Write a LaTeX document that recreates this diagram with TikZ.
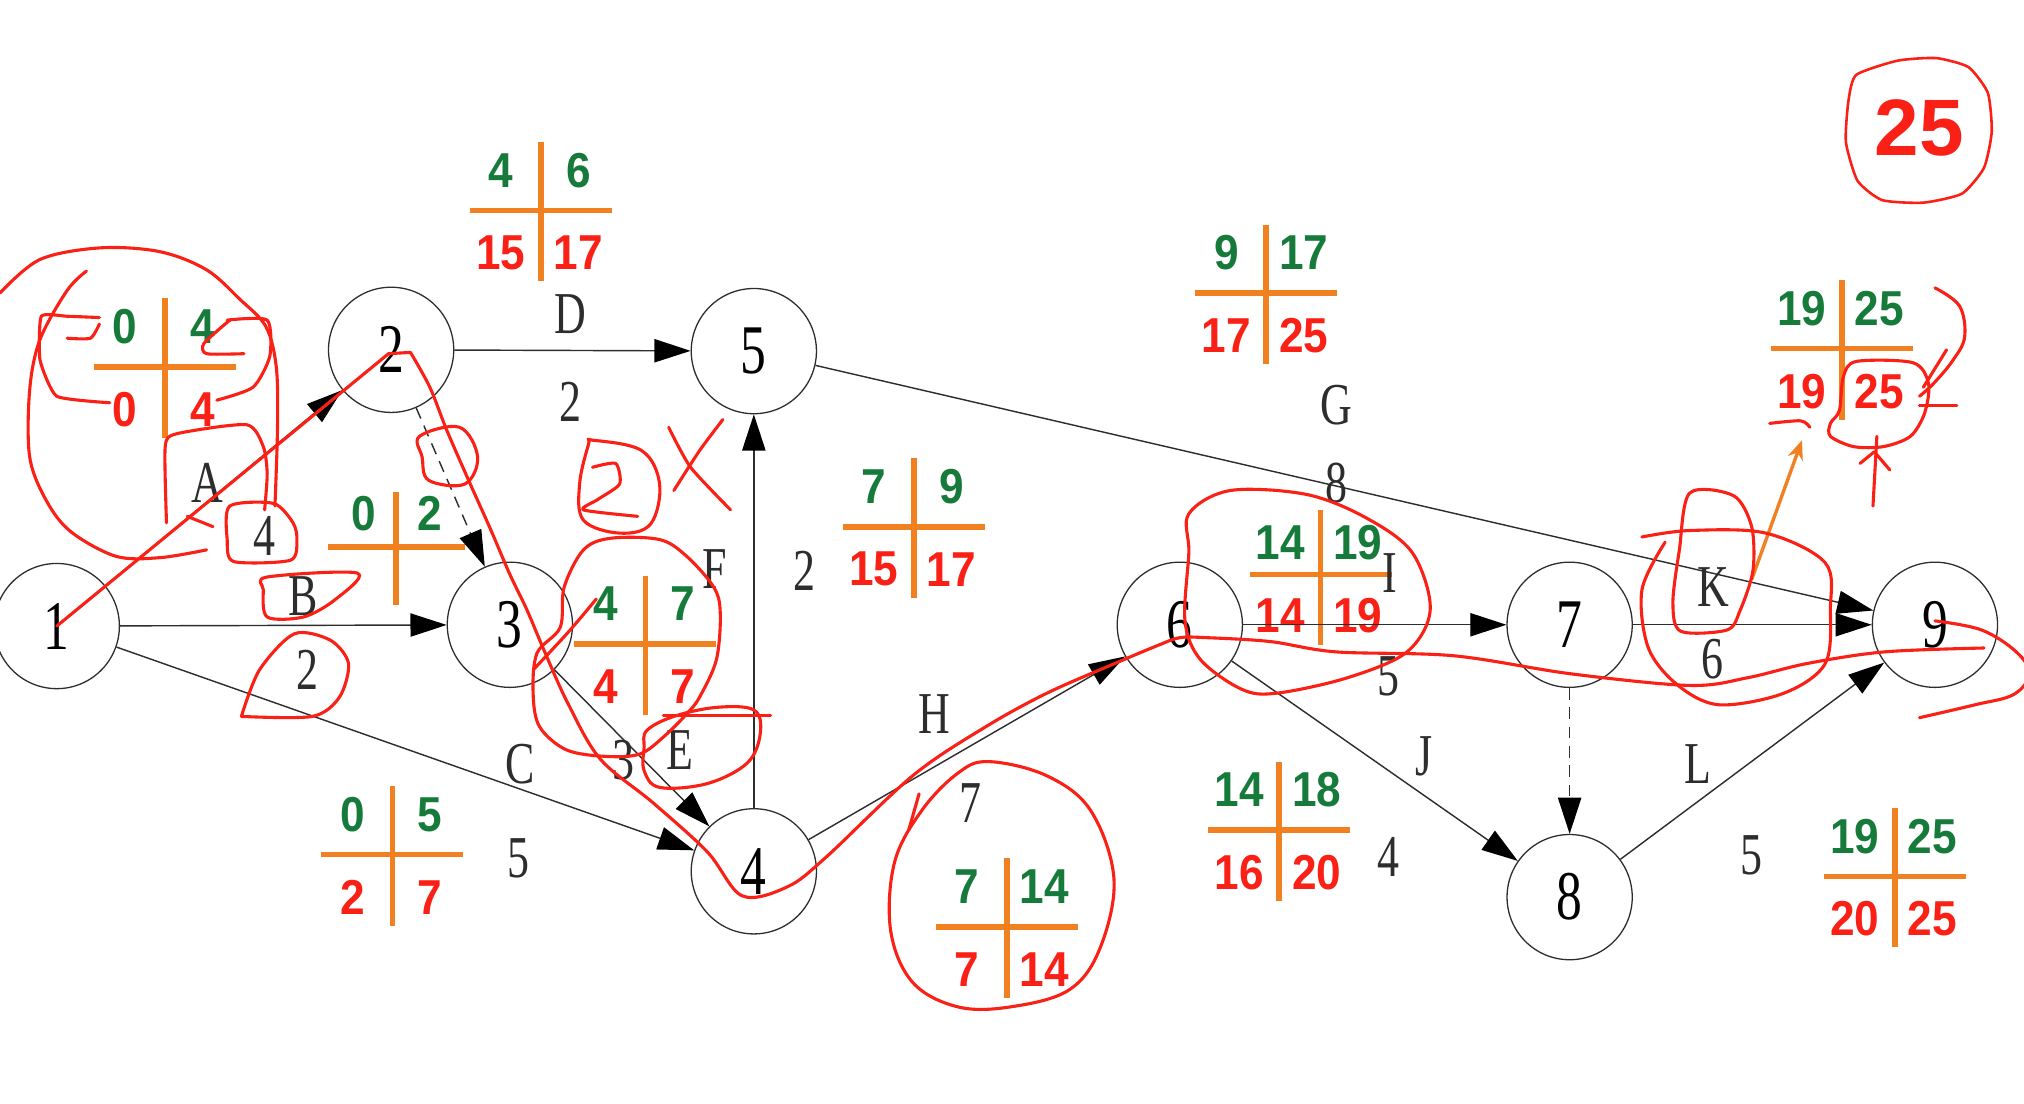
\documentclass[tikz,border=0pt]{standalone}
\usepackage{fontspec}
\setmainfont{Liberation Serif}
\newfontfamily\labfont{Liberation Serif}[FakeStretch=0.74]
\newfontfamily\numfont{Liberation Sans}[FakeStretch=0.9]
\newfontfamily\bigfont{Liberation Sans}
\usetikzlibrary{arrows.meta}
\definecolor{grn}{RGB}{22,122,58}
\definecolor{rd}{RGB}{250,32,22}
\definecolor{org}{RGB}{240,128,32}
\definecolor{ink}{RGB}{45,45,45}
\newcommand\crosstab[7]{%
  \begin{scope}[shift={(#2,#3)}]
    \draw[crossln] (-55,0) -- (55,0);
    \draw[crossln] (0,-53) -- (0,55);
    \node[es] (#1tl) at (-31,-31) {#4};
    \node[es] (#1tr) at (29,-31) {#5};
    \node[lf] (#1bl) at (-31,33) {#6};
    \node[lf] (#1br) at (29,33) {#7};
  \end{scope}}
\begin{document}
\begin{tikzpicture}[x=1pt,y=-1pt,
  ev/.style={circle,draw=ink,line width=1pt,minimum size=97pt,inner sep=0pt,
     font=\labfont\fontsize{54}{54}\selectfont},
  lbl/.style={inner sep=0pt,text=ink,font=\labfont\fontsize{46}{46}\selectfont},
  act/.style={draw=ink,line width=1.1pt,-{Triangle[length=28pt,width=18pt,color=black]}},
  dummy/.style={act,dash pattern=on 9pt off 6pt},
  es/.style={inner sep=0pt,text=grn,font=\numfont\bfseries\fontsize{38}{38}\selectfont},
  lf/.style={inner sep=0pt,text=rd,font=\numfont\bfseries\fontsize{38}{38}\selectfont},
  crossln/.style={draw=org,line width=4.5pt},
  scrib/.style={draw=rd,line width=2.4pt,line cap=round,line join=round},
]
\useasboundingbox[fill=white] (0,0) rectangle (1568,855);

% ---- cross tables ----
\crosstab{ta}{128}{284}{0}{4}{0}{4}
\crosstab{tb}{419}{163}{4}{6}{15}{17}
\begin{scope}[shift={(307,424)}]
  \draw[crossln] (-53,0) -- (53,0);
  \draw[crossln] (0,-43) -- (0,45);
  \node[es] (tctl) at (-25,-26) {0};
  \node[es] (tctr) at (26,-26) {2};
\end{scope}
\crosstab{td}{500}{499}{4}{7}{4}{7}
\crosstab{te}{708}{408}{7}{9}{15}{17}
\crosstab{tf}{304}{662}{0}{5}{2}{7}
\crosstab{tg}{780}{718}{7}{14}{7}{14}
\crosstab{th}{981}{227}{9}{17}{17}{25}
\begin{scope}[shift={(1023,445)}]
  \draw[crossln] (-55,0) -- (55,0);
  \draw[crossln] (0,-50) -- (0,55);
  \node[es] (titl) at (-31,-25) {14};
  \node[es] (titr) at (29,-25) {19};
  \node[lf] (tibl) at (-31,32) {14};
  \node[lf] (tibr) at (29,32) {19};
\end{scope}
\crosstab{tj}{991}{643}{14}{18}{16}{20}
\crosstab{tk}{1427}{270}{19}{25}{19}{25}
\crosstab{tl}{1468}{679}{19}{25}{20}{25}

% ---- events ----
\node[ev] (n1) at (44,485) {1};
\node[ev] (n2) at (303,271) {2};
\node[ev] (n3) at (395,484) {3};
\node[ev] (n4) at (584,675) {4};
\node[ev] (n5) at (584,272) {5};
\node[ev] (n6) at (914,484) {6};
\node[ev] (n7) at (1216,484) {7};
\node[ev] (n8) at (1216,695) {8};
\node[ev] (n9) at (1499,484) {9};

% ---- activities ----
\draw[act] (n1) -- (n2);
\draw[act] (n1) -- (n3);
\draw[act] (n1) -- (n4);
\draw[act] (n2) -- (n5);
\draw[dummy] (n2) -- (n3);
\draw[act] (n3) -- (n4);
\draw[act] (n4) -- (n5);
\draw[act] (n5) -- (n9);
\draw[act] (n4) -- (n6);
\draw[act] (n6) -- (n7);
\draw[act] (n6) -- (n8);
\draw[act] (n7) -- (n9);
\draw[dummy] (n7) -- (n8);
\draw[act] (n8) -- (n9);

% ---- activity labels ----
\node[lbl] (la) at (161,374) {A};
\node[lbl] (da) at (205,415) {4};
\node[lbl] (lb) at (235,462) {B};
\node[lbl] (db) at (238,519) {2};
\node[lbl] (lc) at (403,592) {C};
\node[lbl] (dc) at (402,665) {5};
\node[lbl] (ld) at (442,243) {D};
\node[lbl] (dd) at (442,311) {2};
\node[lbl] (le) at (527,581) {E};
\node[lbl] (de) at (483,589) {3};
\node[lbl] (lff) at (554,441) {F};
\node[lbl] (dff) at (623,442) {2};
\node[lbl] (lg) at (1035,314) {G};
\node[lbl] (dg) at (1035,374) {8};
\node[lbl] (lh) at (724,553) {H};
\node[lbl] (dh) at (752,622) {7};
\node[lbl] (li) at (1077,444) {I};
\node[lbl] (di) at (1076,524) {5};
\node[lbl] (lj) at (1103,586) {J};
\node[lbl] (dj) at (1076,664) {4};
\node[lbl] (lk) at (1327,455) {K};
\node[lbl] (dk) at (1327,511) {6};
\node[lbl] (ll) at (1315,592) {L};
\node[lbl] (dl) at (1357,663) {5};

% ---- total ----
\node[inner sep=0pt,text=rd,font=\bigfont\bfseries\fontsize{62}{62}\selectfont] (tot) at (1487,99) {25};

% ---- orange pointer ----
\coordinate (oa1) at (1357,449);
\coordinate (oa2) at (1396,341);
\draw[draw=org,line width=2.6pt,-{Stealth[length=15pt,width=12pt]}] (oa1) -- (oa2);

% ---- red hand annotations ----
% critical path
\draw[scrib] (44,485) -- (301,274) -- (318,273);
\draw[scrib] plot[smooth,tension=0.55] coordinates {(318,273) (333,300) (346,333) (363,372) (380,410) (395,445) (408,472) (422,505) (440,545) (465,588) (506,622) (548,660) (575,694) (610,687) (640,664) (707,601) (762,564) (811,537) (866,513) (897,500) (914,494) (935,494) (984,497) (1035,505) (1126,508) (1217,522) (1309,531) (1354,525) (1400,514) (1460,505) (1537,502)};
\draw[scrib] plot[smooth,tension=0.6] coordinates {(1499,481) (1535,488) (1562,505) (1572,522) (1560,538) (1530,546) (1487,556)};
% loops around first table
\draw[scrib] plot[smooth,tension=0.55] coordinates {(67,210) (52,225) (31,263) (23,302) (23,354) (36,388) (55,412) (90,431) (124,432) (160,426)};
\draw[scrib] plot[smooth,tension=0.55] coordinates {(213,392) (215,330) (214,284) (206,253) (186,232) (160,209) (124,195) (78,192) (31,201) (0,227)};
\draw[scrib] plot[smooth,tension=0.3] coordinates {(77,246) (52,245) (32,245) (31,279) (44,307) (85,312)};
\draw[scrib] plot[smooth,tension=0.4] coordinates {(52,262) (70,262) (77,251)};
\draw[scrib] plot[smooth,tension=0.4] coordinates {(176,248) (207,248) (209,276) (196,300) (168,310)};
\draw[scrib] plot[smooth,tension=0.4] coordinates {(189,274) (160,274) (158,266) (178,248)};
\draw[scrib] plot[smooth,tension=0.4] coordinates {(129,405) (128,346) (137,336) (191,329) (204,346) (207,367) (205,395)};
\draw[scrib] (145,400) -- (165,408);
\draw[scrib] plot[smooth cycle,tension=0.45] coordinates {(178,392) (212,390) (227,405) (230,418) (225,434) (181,435) (176,418)};
\draw[scrib] plot[smooth cycle,tension=0.5] coordinates {(207,447) (277,444) (259,465) (235,478) (207,478) (204,457)};
\draw[scrib] plot[smooth,tension=0.5] coordinates {(187,555) (201,519) (228,491) (256,496) (270,514) (263,540) (242,555) (187,555)};
\draw[scrib] plot[smooth cycle,tension=0.6] coordinates {(325,338) (356,331) (370,354) (360,375) (332,372) (327,354)};
% handwritten 2 and X
\draw[scrib] plot[smooth cycle,tension=0.6] coordinates {(459,341) (497,349) (511,375) (504,406) (480,413) (452,403) (449,375) (456,344)};
\draw[scrib] plot[smooth,tension=0.4] coordinates {(459,362) (477,359) (480,375) (463,387) (452,395) (494,400)};
\draw[scrib] plot[smooth,tension=0.4] coordinates {(518,331) (535,362) (566,395)};
\draw[scrib] plot[smooth,tension=0.4] coordinates {(560,325) (542,349) (522,380)};
% table of node 3 and E
\draw[scrib] plot[smooth cycle,tension=0.55] coordinates {(473,417) (511,418) (532,431) (553,455) (558,475) (555,511) (542,540) (532,553) (515,570) (496,584) (470,586) (439,581) (418,563) (413,537) (416,506) (434,486) (437,455) (452,426)};
\draw[scrib] plot[smooth,tension=0.5] coordinates {(413,519) (440,490) (462,464)};
\draw[scrib] plot[smooth cycle,tension=0.6] coordinates {(501,566) (522,555) (555,548) (584,550) (589,568) (579,591) (548,607) (511,610) (499,597) (499,579)};
\draw[scrib] (514,554) -- (597,554);
% table 7|14
\draw[scrib] plot[smooth cycle,tension=0.6] coordinates {(766,590) (811,601) (845,628) (863,681) (852,735) (828,767) (783,780) (742,780) (707,761) (690,721) (693,668) (714,628) (742,599)};
\draw[scrib] (712,615) -- (704,643);
% table at node 6
\draw[scrib] plot[smooth cycle,tension=0.55] coordinates {(921,398) (953,380) (1012,383) (1058,401) (1094,428) (1108,472) (1090,505) (1044,525) (989,537) (962,534) (930,511) (918,481) (921,428)};
% K loops
\draw[scrib] plot[smooth,tension=0.55] coordinates {(1272,416) (1309,411) (1368,413) (1414,436) (1418,472) (1414,514) (1382,537) (1332,546) (1300,531) (1277,502) (1272,457) (1290,420)};
\draw[scrib] plot[smooth cycle,tension=0.5] coordinates {(1309,382) (1343,384) (1357,408) (1358,442) (1348,473) (1338,488) (1302,489) (1296,467) (1301,426)};
% marks on last table
\draw[scrib] plot[smooth,tension=0.5] coordinates {(1371,328) (1395,326) (1402,331)};
\draw[scrib] plot[smooth cycle,tension=0.5] coordinates {(1438,280) (1482,281) (1494,297) (1491,320) (1480,338) (1459,346) (1436,346) (1418,338) (1418,328) (1425,318) (1428,292)};
\draw[scrib] plot[smooth,tension=0.6] coordinates {(1499,223) (1518,237) (1522,261) (1513,279) (1498,297) (1487,307)};
\draw[scrib] (1508,271) -- (1490,300);
\draw[scrib] (1487,314) -- (1516,314);
\draw[scrib] (1454,338) -- (1451,392);
\draw[scrib] (1441,359) -- (1452,350) -- (1464,364);
% circle round total
\draw[scrib,line width=2pt] plot[smooth cycle,tension=0.35] coordinates {(1438,58) (1470,47) (1500,45) (1525,52) (1540,72) (1543,102) (1537,130) (1520,150) (1490,157) (1458,155) (1439,140) (1430,110) (1432,78)};
\end{tikzpicture}
\end{document}
